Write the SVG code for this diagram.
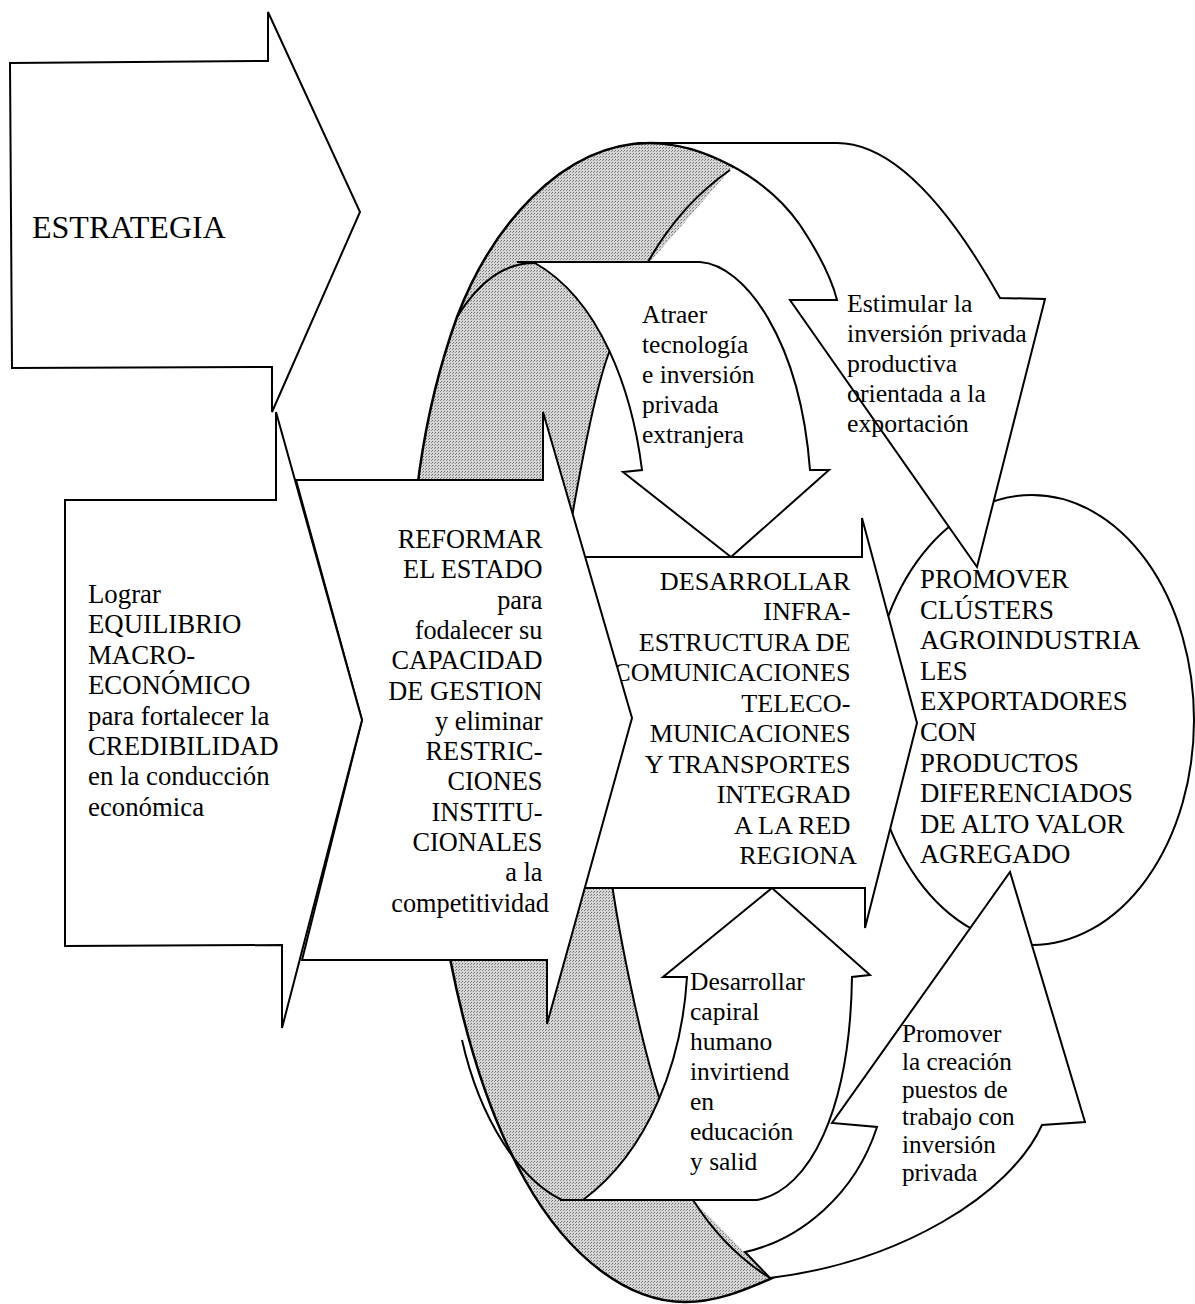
<svg xmlns="http://www.w3.org/2000/svg" width="1195" height="1304" viewBox="0 0 1195 1304">
<defs>
<pattern id="stip" width="3" height="3" patternUnits="userSpaceOnUse">
<rect width="3" height="3" fill="#d6d6d6"/>
<rect x="0" y="0" width="1" height="1" fill="#6f6f6f"/>
<rect x="2" y="1" width="1" height="1" fill="#8c8c8c"/>
</pattern>
<style>
.s{fill:#fff;stroke:#000;stroke-width:2;stroke-linejoin:miter}
.ln{fill:none;stroke:#000;stroke-width:2}
.g{fill:url(#stip);stroke:#000;stroke-width:2.5}
.t{fill:#000}
.e{text-anchor:end}
</style>
</defs>
<rect width="1195" height="1304" fill="#fff"/>

<g id="cycle-ring">
<path class="g" d="M 650,143 C 700,143 765,175 800,225 C 820,255 832,280 837,300 L 900,600 L 890,1000 L 870,1127 C 855,1200 810,1260 770,1279 C 740,1292 715,1302 685,1302 C 630,1302 570,1260 525,1180 C 480,1100 455,1000 440,900 C 420,780 410,700 410,620 C 410,520 420,420 457,317 C 490,230 560,143 650,143 Z"/>
<path fill="#fff" stroke="none" d="M 650,262 L 730,170 L 760,150 L 1100,150 L 1100,1250 L 770,1278 L 693,1200 L 660,1100 C 640,1040 618,930 610,870 L 588,700 L 568,540 C 585,440 598,380 610,350 Z"/>
<path class="ln" d="M 648,262 Q 680,205 730,170"/>
<path class="ln" d="M 693,1200 Q 725,1250 770,1278"/>
<path class="ln" d="M 610,350 C 598,380 585,440 568,540"/>
<path class="ln" d="M 610,870 C 618,930 640,1040 660,1100"/>
<path class="ln" d="M 457,317 C 480,280 505,263 535,263"/>
<path class="ln" d="M 462,1040 C 480,1120 520,1180 562,1200"/>
</g>

<g id="node-promover-clusters">
<ellipse class="s" cx="1032" cy="720" rx="162" ry="225"/>
<text class="t" font-family="Liberation Serif, Times New Roman, serif" font-size="26.8">
<tspan x="920" y="588">PROMOVER</tspan>
<tspan x="920" y="619">CLÚSTERS</tspan>
<tspan x="920" y="649">AGROINDUSTRIA</tspan>
<tspan x="920" y="680">LES</tspan>
<tspan x="920" y="710">EXPORTADORES</tspan>
<tspan x="920" y="741">CON</tspan>
<tspan x="920" y="772">PRODUCTOS</tspan>
<tspan x="920" y="802">DIFERENCIADOS</tspan>
<tspan x="920" y="833">DE ALTO VALOR</tspan>
<tspan x="920" y="863">AGREGADO</tspan>
</text>
</g>

<g id="node-estimular">
<path class="s" d="M 637,143 L 837,143 C 890,143 945,200 1000,298 L 1045,299 L 977,567 L 790,300 L 837,300 C 832,280 820,255 800,225 C 765,175 700,143 650,143 Z"/>
<text class="t" font-family="Liberation Serif, Times New Roman, serif" font-size="25.8">
<tspan x="847" y="312">Estimular la</tspan>
<tspan x="847" y="342">inversión privada</tspan>
<tspan x="847" y="372">productiva</tspan>
<tspan x="847" y="402">orientada a la</tspan>
<tspan x="847" y="432">exportación</tspan>
</text>
</g>

<g id="node-atraer">
<path class="s" d="M 517,262 L 700,262 C 745,265 800,340 810,470 L 829,470 L 731,557 L 623,472 L 642,470 C 632,390 600,300 535,263 Z"/>
<text class="t" font-family="Liberation Serif, Times New Roman, serif" font-size="25.5">
<tspan x="642" y="323">Atraer</tspan>
<tspan x="642" y="353">tecnología</tspan>
<tspan x="642" y="383">e inversión</tspan>
<tspan x="642" y="413">privada</tspan>
<tspan x="642" y="443">extranjera</tspan>
</text>
</g>

<g id="node-desarrollar-capital">
<path class="s" d="M 560,1200 L 757,1200 C 810,1190 850,1110 852,977 L 870,975 L 772,888 L 663,977 L 687,977 C 682,1060 650,1150 583,1200 Z"/>
<text class="t" font-family="Liberation Serif, Times New Roman, serif" font-size="25.5">
<tspan x="690" y="990">Desarrollar</tspan>
<tspan x="690" y="1020">capiral</tspan>
<tspan x="690" y="1050">humano</tspan>
<tspan x="690" y="1080">invirtiend</tspan>
<tspan x="690" y="1110">en</tspan>
<tspan x="690" y="1140">educación</tspan>
<tspan x="690" y="1170">y salid</tspan>
</text>
</g>

<g id="node-promover-puestos">
<path class="s" d="M 745,1252 C 800,1240 855,1195 877,1127 L 832,1123 L 1010,872 L 1085,1122 L 1042,1125 C 1010,1195 900,1262 770,1278 Z"/>
<text class="t" font-family="Liberation Serif, Times New Roman, serif" font-size="25.2">
<tspan x="902" y="1042">Promover</tspan>
<tspan x="902" y="1070">la creación</tspan>
<tspan x="902" y="1098">puestos de</tspan>
<tspan x="902" y="1125">trabajo con</tspan>
<tspan x="902" y="1153">inversión</tspan>
<tspan x="902" y="1181">privada</tspan>
</text>
</g>

<g id="node-desarrollar-infra">
<path class="s" d="M 560,557 L 862,557 L 862,518 L 917,723 L 865,928 L 865,888 L 560,888 Z"/>
<text class="t e" font-family="Liberation Serif, Times New Roman, serif" font-size="26.2">
<tspan x="857" y="590">DESARROLLAR</tspan>
<tspan x="857" y="620">INFRA-</tspan>
<tspan x="857" y="651">ESTRUCTURA DE</tspan>
<tspan x="857" y="681">COMUNICACIONES</tspan>
<tspan x="857" y="712">TELECO-</tspan>
<tspan x="857" y="742">MUNICACIONES</tspan>
<tspan x="857" y="773">Y TRANSPORTES</tspan>
<tspan x="857" y="803">INTEGRAD</tspan>
<tspan x="857" y="834">A LA RED</tspan>
<tspan x="857" y="864">REGIONA</tspan>
</text>
</g>

<g id="node-reformar">
<path class="s" d="M 296,480 L 543,480 L 543,412 L 632,718 L 547,1024 L 547,960 L 302,960 L 362,720 Z"/>
<text class="t e" font-family="Liberation Serif, Times New Roman, serif" font-size="26.3">
<tspan x="549" y="548">REFORMAR</tspan>
<tspan x="549" y="578">EL ESTADO</tspan>
<tspan x="549" y="609">para</tspan>
<tspan x="549" y="639">fodalecer su</tspan>
<tspan x="549" y="669">CAPACIDAD</tspan>
<tspan x="549" y="700">DE GESTION</tspan>
<tspan x="549" y="730">y eliminar</tspan>
<tspan x="549" y="760">RESTRIC-</tspan>
<tspan x="549" y="790">CIONES</tspan>
<tspan x="549" y="821">INSTITU-</tspan>
<tspan x="549" y="851">CIONALES</tspan>
<tspan x="549" y="881">a la</tspan>
<tspan x="549" y="912">competitividad</tspan>
</text>
</g>

<g id="node-lograr">
<path class="s" d="M 65,500 L 276,500 L 276,412 L 362,720 L 282,1028 L 282,945 L 65,946 Z"/>
<text class="t" font-family="Liberation Serif, Times New Roman, serif" font-size="26.8">
<tspan x="88" y="603">Lograr</tspan>
<tspan x="88" y="633">EQUILIBRIO</tspan>
<tspan x="88" y="664">MACRO-</tspan>
<tspan x="88" y="694">ECONÓMICO</tspan>
<tspan x="88" y="725">para fortalecer la</tspan>
<tspan x="88" y="755">CREDIBILIDAD</tspan>
<tspan x="88" y="785">en la conducción</tspan>
<tspan x="88" y="816">económica</tspan>
</text>
</g>

<g id="node-estrategia">
<path class="s" d="M 10,63 L 268,61 L 268,12 L 360,212 L 272,412 L 272,367 L 12,368 Z"/>
<text class="t" x="32" y="238" font-family="Liberation Serif, Times New Roman, serif" font-size="32">ESTRATEGIA</text>
</g>
</svg>
